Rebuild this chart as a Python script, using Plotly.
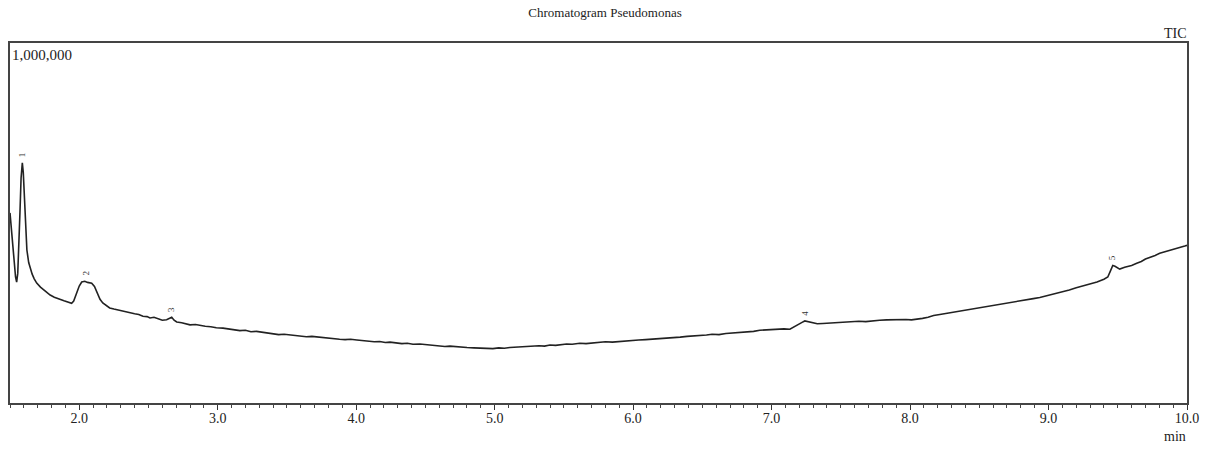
import plotly.graph_objects as go

# Retention time (min)
time_min = [
    1.500, 1.510, 1.520, 1.530, 1.540, 1.548, 1.556, 1.564, 1.572, 1.580, 1.589, 1.596, 1.604, 1.612,
    1.622, 1.635, 1.648, 1.660, 1.675, 1.693, 1.72, 1.75, 1.77, 1.79, 1.82, 1.85, 1.87, 1.89, 1.91,
    1.93, 1.945, 1.96, 1.98, 2.00, 2.018, 2.04, 2.06, 2.09, 2.11, 2.13, 2.15, 2.17, 2.20, 2.22, 2.25,
    2.28, 2.31, 2.34, 2.366, 2.40, 2.43, 2.46, 2.49, 2.511, 2.54, 2.57, 2.60, 2.631, 2.650, 2.668,
    2.685, 2.704, 2.74, 2.77, 2.80, 2.84, 2.872, 2.91, 2.95, 2.99, 3.038, 3.08, 3.12, 3.16, 3.20,
    3.24, 3.28, 3.319, 3.36, 3.40, 3.44, 3.48, 3.522, 3.56, 3.60, 3.64, 3.68, 3.72, 3.760, 3.80,
    3.84, 3.88, 3.92, 3.96, 4.005, 4.05, 4.09, 4.13, 4.17, 4.21, 4.244, 4.29, 4.33, 4.37, 4.41,
    4.46, 4.50, 4.55, 4.60, 4.64, 4.677, 4.72, 4.76, 4.80, 4.85, 4.90, 4.95, 4.987, 5.03, 5.07,
    5.11, 5.15, 5.19, 5.23, 5.276, 5.32, 5.36, 5.40, 5.44, 5.48, 5.52, 5.56, 5.615, 5.66, 5.70,
    5.760, 5.80, 5.85, 5.90, 5.95, 5.998, 6.04, 6.09, 6.14, 6.19, 6.244, 6.29, 6.34, 6.39, 6.44,
    6.482, 6.53, 6.57, 6.62, 6.67, 6.720, 6.77, 6.82, 6.87, 6.915, 6.96, 7.009, 7.05, 7.09, 7.132,
    7.17, 7.204, 7.22, 7.240, 7.26, 7.291, 7.33, 7.37, 7.41, 7.45, 7.493, 7.54, 7.58, 7.63, 7.68,
    7.731, 7.78, 7.83, 7.88, 7.926, 7.97, 8.01, 8.049, 8.09, 8.13, 8.17, 8.215, 8.26, 8.30, 8.35,
    8.40, 8.453, 8.50, 8.55, 8.60, 8.65, 8.699, 8.74, 8.79, 8.84, 8.89, 8.937, 8.98, 9.02, 9.06,
    9.103, 9.15, 9.20, 9.25, 9.30, 9.35, 9.40, 9.428, 9.445, 9.464, 9.48, 9.50, 9.514, 9.55, 9.60,
    9.637, 9.67, 9.70, 9.73, 9.77, 9.803, 9.84, 9.88, 9.92, 9.96, 9.984, 10.0,
]

# TIC intensity (thousands of counts)
tic_k = [
    528, 490, 445, 395, 350, 336, 360, 430, 530, 625, 667, 640, 560, 480,
    425, 390, 370, 358, 345, 333, 322, 312, 305, 300, 294, 291, 287, 284, 281,
    279, 277, 283, 305, 325, 336, 338, 335, 333, 324, 305, 288, 278, 270, 264, 261,
    258, 256, 252, 250, 248, 246, 241, 240, 236, 238, 233, 230, 231, 234, 238,
    230, 225, 223, 221, 217, 218, 215, 213, 212, 209, 208, 206, 203, 201, 202,
    198, 199, 197, 194, 193, 190, 191, 189, 187, 186, 184, 185, 183, 183, 181,
    178, 177, 176, 177, 175, 173, 172, 170, 171, 168, 169, 167, 165, 166, 163,
    164, 162, 160, 159, 157, 158, 156, 155, 154, 153, 152, 153, 151, 153, 152,
    154, 155, 154, 156, 157, 159, 158, 161, 160, 162, 164, 163, 166, 165, 167,
    168, 170, 169, 171, 172, 173, 175, 176, 177, 179, 180, 182, 183, 185, 186,
    188, 189, 191, 190, 193, 194, 195, 198, 199, 202, 203, 205, 204, 206, 205,
    214, 220, 224, 228, 226, 222, 220, 221, 222, 221, 223, 224, 225, 227, 226,
    229, 230, 231, 232, 233, 232, 231, 232, 235, 238, 243, 246, 249, 251, 256,
    258, 262, 265, 268, 272, 275, 278, 281, 285, 287, 290, 293, 297, 300, 304,
    308, 314, 320, 325, 330, 336, 344, 350, 365, 382, 380, 374, 372, 377, 382,
    388, 393, 400, 404, 410, 416, 420, 423, 427, 432, 436, 438,
]

# Peak labels
peak_ids = ["1", "2", "3", "4", "5"]
peak_times = [1.589, 2.05, 2.668, 7.24, 9.464]
peak_tops_k = [667, 338, 238, 228, 382]

tick_vals = [2.0, 3.0, 4.0, 5.0, 6.0, 7.0, 8.0, 9.0, 10.0]
tick_text = ["2.0", "3.0", "4.0", "5.0", "6.0", "7.0", "8.0", "9.0", "10.0"]

FONT = "Liberation Serif"

fig = go.Figure()
fig.add_trace(go.Scatter(
    x=time_min, y=[v * 1000 for v in tic_k], mode="lines",
    line=dict(color="#222222", width=1.6), showlegend=False, hoverinfo="x+y",
))

for pid, pt, py in zip(peak_ids, peak_times, peak_tops_k):
    fig.add_annotation(x=pt, y=py * 1000, text=pid, showarrow=False, textangle=-90,
                       yshift=8, font=dict(family=FONT, size=9, color="#333"))

fig.add_annotation(x=0, y=1, xref="paper", yref="paper", text="1,000,000", showarrow=False,
                   xanchor="left", yanchor="top", xshift=0, yshift=-2,
                   font=dict(family=FONT, size=15, color="#222"))
fig.add_annotation(x=1, y=1, xref="paper", yref="paper", text="TIC", showarrow=False,
                   xanchor="right", yanchor="bottom", xshift=2, yshift=0,
                   font=dict(family=FONT, size=14, color="#222"))
fig.add_annotation(x=1, y=0, xref="paper", yref="paper", text="min", showarrow=False,
                   xanchor="center", yanchor="top", xshift=-12, yshift=-24,
                   font=dict(family=FONT, size=14, color="#222"))

fig.update_layout(
    width=1210, height=450,
    margin=dict(l=10, r=23, t=43, b=47),
    paper_bgcolor="white", plot_bgcolor="white",
    title=dict(text="Chromatogram Pseudomonas", x=0.5, xanchor="center", y=0.973, yanchor="middle",
               font=dict(family=FONT, size=13, color="#222")),
    xaxis=dict(
        range=[1.5, 10.0], tickvals=tick_vals, ticktext=tick_text, ticks="outside", ticklen=5,
        tickcolor="#333", tickwidth=1.3, showgrid=False, zeroline=False,
        showline=True, linecolor="#444", linewidth=1.5, mirror=True, ticklabelstandoff=-4,
        tickfont=dict(family=FONT, size=14, color="#222"),
        minor=dict(dtick=0.1, ticks="outside", ticklen=3, tickcolor="#444", tickwidth=1, showgrid=False),
    ),
    yaxis=dict(
        range=[0, 1000000], showticklabels=False, ticks="", showgrid=False, zeroline=False,
        showline=True, linecolor="#444", linewidth=1.5, mirror=True,
    ),
)

fig.write_html("out.html")
